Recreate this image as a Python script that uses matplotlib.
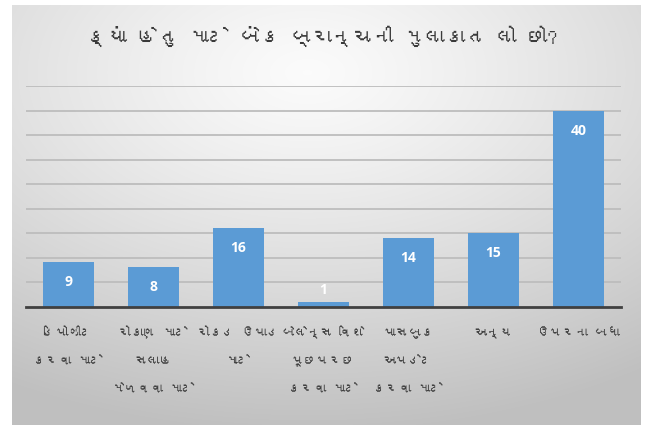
import numpy as np
import matplotlib
matplotlib.use("Agg")
import matplotlib.pyplot as plt
from matplotlib import font_manager

categories = [
    "ડિપોઝીટ\nકરવા માટે",
    "રોકાણ માટે\nસલાહ\nમેળવવા માટે",
    "રોકડ ઉપાડ\nમાટે",
    "બેલેન્સ વિશે\nપૂછપરછ\nકરવા માટે",
    "પાસબુક\nઅપડેટ\nકરવા માટે",
    "અન્ય",
    "ઉપરના બધા",
]
values = [9, 8, 16, 1, 14, 15, 40]
title = "ક્યાં હેતુ માટે બેંક બ્રાન્ચની મુલાકાત લો છો?"

# pick the installed font with Gujarati glyphs whose vowel signs take the
# least room (no shaping engine in matplotlib)
guj_family = None
try:
    from fontTools.ttLib import TTFont
    best = None
    for f in sorted(font_manager.findSystemFonts()):
        try:
            tt = TTFont(f, fontNumber=0, lazy=True)
            cmap = tt.getBestCmap()
            if not cmap or 0x0A95 not in cmap:
                continue
            hm = tt["hmtx"]
            upm = tt["head"].unitsPerEm
            marks = [0x0AC7, 0x0ABE, 0x0AC1, 0x0A82, 0x0ACD]
            adv = sum(hm[cmap[m]][0] for m in marks if m in cmap) / upm
            name = font_manager.FontProperties(fname=f).get_name()
            bold = "Bold" in f or "bold" in f
            key = (adv, bold, f)
            if best is None or key < best[0]:
                best = (key, name)
        except Exception:
            pass
    if best:
        guj_family = best[1]
except Exception:
    pass
guj = ([guj_family] if guj_family else []) + ["Noto Sans", "DejaVu Sans"]
plt.rcParams["font.family"] = guj

W, H = 649, 425
fig = plt.figure(figsize=(W / 100, H / 100), dpi=100)
fig.patch.set_facecolor("white")

# gradient panel background
bg = fig.add_axes([12 / W, 0, (641 - 12) / W, (425 - 5) / H], zorder=0)
yy, xx = np.mgrid[0:1:300j, 0:1:450j]
cx, cy = 0.47, 0.16
r = np.sqrt(((xx - cx) * 1.0) ** 2 + ((yy - cy) * 1.1) ** 2)
r = np.clip(r / 0.95, 0, 1)
light, dark = 0.985, 0.75
g = light - (light - dark) * r ** 1.2
img = np.dstack([g, g, g])
bg.imshow(img, aspect="auto", extent=[0, 1, 1, 0], interpolation="bilinear")
bg.set_xlim(0, 1)
bg.set_ylim(1, 0)
bg.axis("off")

ax = fig.add_axes([26 / W, (425 - 306.5) / H, 595 / W, 220.5 / H], zorder=1)
ax.patch.set_alpha(0)
x = np.arange(len(categories))
ax.bar(x, values, width=0.59, color="#5B9BD5", zorder=3)
ax.set_xlim(-0.5, len(categories) - 0.5)
ax.set_ylim(0, 45)
ax.set_yticks(np.arange(5, 50, 5))
ax.yaxis.grid(True, color="#bdbdbd", lw=1.3, zorder=1)
ax.tick_params(axis="y", left=False, labelleft=False)
ax.set_xticks(x)
ax.tick_params(axis="x", bottom=False, labelbottom=False)
for s in ["top", "right", "left"]:
    ax.spines[s].set_visible(False)
ax.spines["bottom"].set_color("#404040")
ax.spines["bottom"].set_linewidth(2)
ax.spines["bottom"].set_zorder(4)

for xi, v in zip(x, values):
    ly = max(v - 4.1, 3.3)
    ax.text(xi, ly, str(v), ha="center", va="center", color="white",
            fontsize=10, fontweight="bold", family=["Open Sans", "DejaVu Sans"],
            zorder=5)

renderer = fig.canvas.get_renderer()

def fit_size(s, target_px, base=12.0):
    t = fig.text(0, 0, s, fontsize=base)
    w = t.get_window_extent(renderer).width
    t.remove()
    return base * target_px / max(w, 1)

# title, scaled to about the reference's width
tsize = min(fit_size(title, 470), 17)
fig.text(322 / W, 1 - 36 / H, title, ha="center", va="center", fontsize=tsize,
         color="#3a3a3a")

# category labels: one line per text, placed under each tick
widest = max((l for c in categories for l in c.split("\n")),
             key=lambda s: fit_size(s, 1.0, 12.0) ** -1)
lsize = min(fit_size(widest, 83), 12)
pitch = 28
first = 333 - 306.5
for xi, lab in zip(x, categories):
    for k, line in enumerate(lab.split("\n")):
        ax.annotate(line, xy=(xi, 0), xycoords=("data", "axes fraction"),
                    xytext=(0, -(first + k * pitch)), textcoords="offset pixels",
                    ha="center", va="center", fontsize=lsize, color="#404040")

fig.savefig("out.png", dpi=100)
